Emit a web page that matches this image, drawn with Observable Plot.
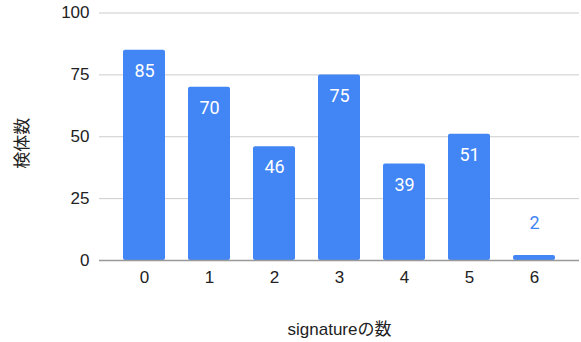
<!DOCTYPE html>
<html>
<head>
<meta charset="utf-8">
<script src="https://cdn.jsdelivr.net/npm/d3@7"></script>
<script src="https://cdn.jsdelivr.net/npm/@observablehq/plot@0.6"></script>
<style>
  html, body { margin: 0; padding: 0; background: #fff; }
  #chart svg { display: block; }
</style>
</head>
<body>
<div id="chart"></div>
<script>
const categories = ["0", "1", "2", "3", "4", "5", "6"];
const values = [85, 70, 46, 75, 39, 51, 2];
const yTicks = [0, 25, 50, 75, 100];
const xLabel = "signatureの数";
const yLabel = "検体数";

const data = categories.map((c, i) => ({category: c, value: values[i]}));
const inside = data.filter(d => d.value >= 10);
const outside = data.filter(d => d.value < 10);

const blue = "#4285f4";
const font = "Arial, 'Liberation Sans', 'Noto Sans CJK JP', sans-serif";

const chart = Plot.plot({
  width: 581,
  height: 342,
  marginLeft: 99,
  marginRight: 2,
  marginTop: 12.5,
  marginBottom: 82,
  style: {fontFamily: font, fontSize: "17px", color: "#222", background: "#fff"},
  x: {domain: categories, padding: 0.355, label: null},
  y: {domain: [0, 100], label: null},
  marks: [
    Plot.ruleY(yTicks.filter(t => t > 0), {stroke: "#cccccc", strokeWidth: 1}),
    Plot.barY(data, {x: "category", y: "value", fill: blue, rx: 2}),
    Plot.ruleY([0], {stroke: "#999999", strokeWidth: 1.5}),
    Plot.axisY({ticks: yTicks, tickSize: 0, tickPadding: 10, label: null, fontSize: 17, fill: "#222"}),
    Plot.axisX({tickSize: 0, tickPadding: 10, label: null, fontSize: 17, fill: "#222"}),
    Plot.text(inside, {x: "category", y: "value", text: d => String(d.value), dy: 21, fill: "white", fontSize: 18, fontFamily: "Roboto, Arial, sans-serif"}),
    Plot.text(outside, {x: "category", y: "value", text: d => String(d.value), dy: -32, fill: blue, fontSize: 18, fontFamily: "Roboto, Arial, sans-serif"}),
    Plot.text([xLabel], {frameAnchor: "bottom", text: d => d, dy: 74, fontSize: 17, fill: "#222"}),
    Plot.text([yLabel], {frameAnchor: "left", text: d => d, rotate: -90, dx: -77, dy: 32, fontSize: 17, fill: "#222"})
  ]
});
document.getElementById("chart").appendChild(chart);
</script>
</body>
</html>
